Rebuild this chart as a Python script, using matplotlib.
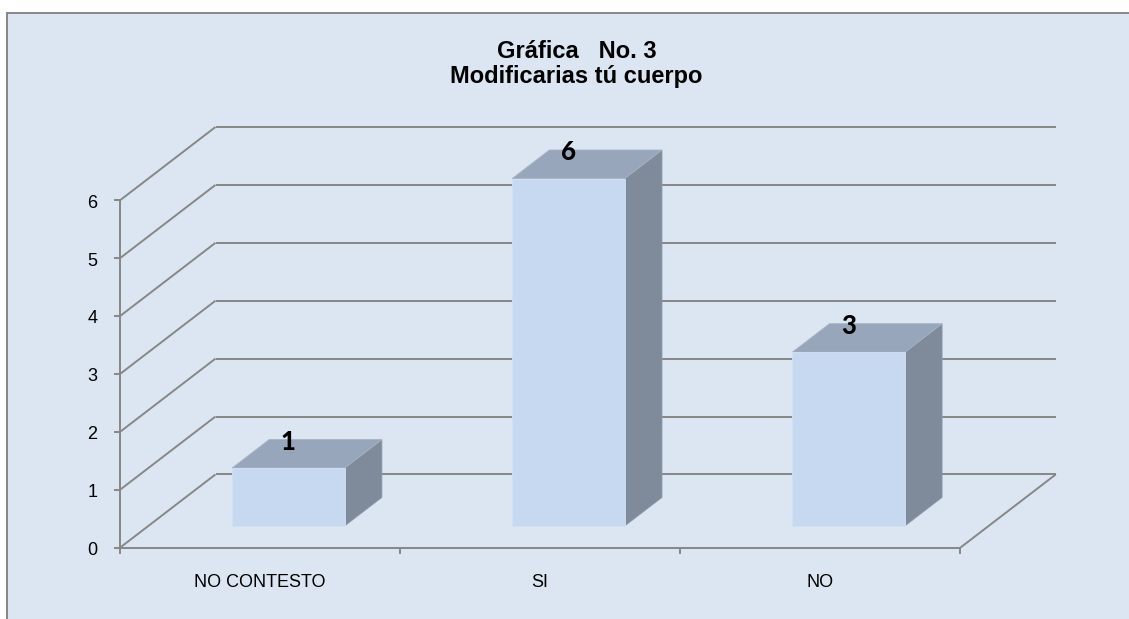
import matplotlib
matplotlib.use('Agg')
import matplotlib.pyplot as plt
from matplotlib.patches import Polygon, Rectangle
from matplotlib.lines import Line2D

# ---------------- data ----------------
categories = ['NO CONTESTO', 'SI', 'NO']
values = [1, 6, 3]
yticks = [0, 1, 2, 3, 4, 5, 6]
title_line1 = 'Gráfica   No. 3'
title_line2 = 'Modificarias tú cuerpo'

# ---------------- layout / style ----------------
W, H = 1129, 619
fig = plt.figure(figsize=(W / 100, H / 100), dpi=100)
fig.patch.set_facecolor('white')

BG = '#DCE6F2'
GRID = '#878787'
FRONT = '#C7D9F1'
TOP = '#97A6BA'
SIDE = '#7F8B9B'

# chart area (border visible only on top/left, cropped elsewhere)
bg = Rectangle((7 / W, -0.05), 1.2, 1 - 13 / H + 0.05, transform=fig.transFigure,
               facecolor=BG, edgecolor='#858585', linewidth=1.4, zorder=0)
fig.add_artist(bg)

ax = fig.add_axes([0, 0, 1, 1])
ax.set_axis_off()
ax.patch.set_alpha(0)

ORIG_X, ORIG_Y = 120.0, 547.7   # pixel position of front-left floor corner
CAT_PX = 280.1                 # pixels per category on front plane
UNIT_PX = 57.9                 # pixels per value unit
ax.set_xlim(-ORIG_X / CAT_PX, (W - ORIG_X) / CAT_PX)
ax.set_ylim((ORIG_Y - H) / UNIT_PX, ORIG_Y / UNIT_PX)

DX = 95.5 / CAT_PX    # depth offset in x (data units)
DY = 73.3 / UNIT_PX   # depth offset in y (data units)
F0, F1 = 0.297, 0.686  # bar front/back depth fraction
BW = 0.402             # bar width (category fraction)
n = len(categories)
ymax = max(yticks)
PT = 0.72              # points per pixel at 100 dpi


def P(x, y, f):
    return (x + f * DX, y + f * DY)


def seg(p, q, **kw):
    ax.add_line(Line2D([p[0], q[0]], [p[1], q[1]], color=GRID, linewidth=1.4,
                       solid_capstyle='butt', **kw))


# walls / gridlines
for v in yticks:
    seg(P(0, v, 0), P(0, v, 1))
    seg(P(0, v, 1), P(n, v, 1))
# floor
seg(P(0, 0, 0), P(n, 0, 0))
seg(P(n, 0, 0), P(n, 0, 1))
# value axis
seg(P(0, 0, 0), P(0, ymax, 0))

tick_len = 5 / CAT_PX
for v in yticks:
    ax.add_line(Line2D([-tick_len, 0], [v, v], color=GRID, linewidth=1.4))
    ax.annotate(str(v), (0, v), xytext=(-27.5 * PT, -7.3 * PT),
                textcoords='offset points', ha='center', va='baseline',
                fontsize=13, family='Liberation Sans', color='black')
for i in range(n + 1):
    ax.add_line(Line2D([i, i], [0, -5 / UNIT_PX], color=GRID, linewidth=1.4))
for i, c in enumerate(categories):
    ax.annotate(c, (i + 0.5, 0), xytext=(0, -39.3 * PT),
                textcoords='offset points', ha='center', va='baseline',
                fontsize=13, family='Liberation Sans', color='black')

# bars
for i, v in enumerate(values):
    xc = i + 0.5
    x0, x1 = xc - BW / 2, xc + BW / 2
    front = [P(x0, 0, F0), P(x1, 0, F0), P(x1, v, F0), P(x0, v, F0)]
    top = [P(x0, v, F0), P(x1, v, F0), P(x1, v, F1), P(x0, v, F1)]
    side = [P(x1, 0, F0), P(x1, 0, F1), P(x1, v, F1), P(x1, v, F0)]
    ax.add_patch(Polygon(side, closed=True, facecolor=SIDE, edgecolor='#8D99A8', linewidth=0.6, zorder=3))
    ax.add_patch(Polygon(top, closed=True, facecolor=TOP, edgecolor='#A5B3C4', linewidth=0.6, zorder=3))
    ax.add_patch(Polygon(front, closed=True, facecolor=FRONT, edgecolor='#D3E1F3', linewidth=0.6, zorder=4))
    lx, ly = P(xc, v, F0)[0], P(xc, v, F1)[1]
    ax.annotate(str(v), (lx, ly), xytext=(0, -10 * PT), textcoords='offset points',
                ha='center', va='baseline', fontsize=18.5, fontweight=900,
                family='Lato', color='black', zorder=6)

# title
fig.text(576.5 / W, 1 - 58.5 / H, title_line1, ha='center', va='baseline',
         fontsize=17, fontweight='bold', family='Liberation Sans')
fig.text(576.5 / W, 1 - 82.5 / H, title_line2, ha='center', va='baseline',
         fontsize=17, fontweight='bold', family='Liberation Sans')

fig.savefig('out.png', dpi=100, facecolor='white')
